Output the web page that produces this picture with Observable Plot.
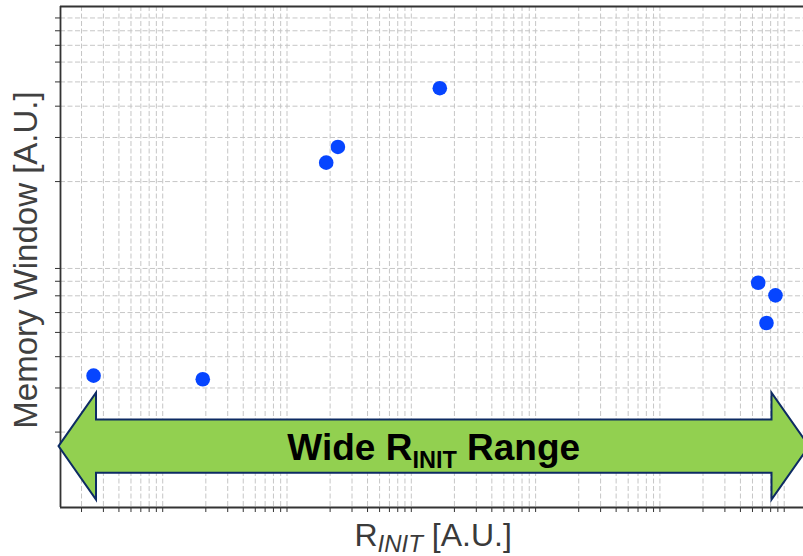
<!DOCTYPE html>
<html>
<head>
<meta charset="utf-8">
<script src="https://cdn.jsdelivr.net/npm/d3@7"></script>
<script src="https://cdn.jsdelivr.net/npm/@observablehq/plot@0.6"></script>
<style>
  html, body { margin: 0; padding: 0; background: #fff; overflow: hidden; }
  #chart { width: 803px; height: 556px; overflow: hidden; }
  svg { font-family: "Liberation Sans", Arial, sans-serif; }
</style>
</head>
<body>
<div id="chart"></div>
<script>
// ---- data ----
const rInit = [2.5, 18.9, 186, 231, 1526, 555900, 765600, 648200];
const memoryWindow = [3.36, 3.25, 23.8, 27.5, 47.2, 7.89, 7.03, 5.45];

// axes
const xDomain = [1.355, 1.2866e6];
const yDomain = [1, 100];
const minorMultipliers = [2, 3, 4, 5, 6, 7, 8, 9];
const xDecades = [1, 10, 100, 1e3, 1e4, 1e5, 1e6];
const yDecades = [1, 10];

// annotation
const arrowEnds = [1.318, 1.438e6];
const arrowLevel = 1.75;
const arrowTextParts = ["Wide R", "INIT", " Range"];

// labels
const yLabel = "Memory Window [A.U.]";
const xLabelParts = ["R", "INIT", " [A.U.]"];

// ---- build ----
const points = rInit.map((x, i) => ({x, y: memoryWindow[i]}));
const inside = (dom) => (v) => v >= dom[0] && v <= dom[1];
const xTicks = xDecades.flatMap(d => minorMultipliers.map(m => m * d)).filter(inside(xDomain));
const yTicks = yDecades.flatMap(d => minorMultipliers.map(m => m * d)).filter(inside(yDomain));

const gridStyle = {stroke: "#c6c6c6", strokeOpacity: 1, strokeWidth: 1, strokeDasharray: "5,2.5"};
const frameStyle = {stroke: "#333", strokeWidth: 1.8};

function arrowMark(index, scales) {
  const {x, y} = scales;
  const g = d3.create("svg:g");
  const xL = x(arrowEnds[0]), xR = x(arrowEnds[1]), yc = y(arrowLevel);
  const hl = 37.5, hh = 53.5, sh = 26.7;
  const pts = [[xL, yc], [xL + hl, yc - hh], [xL + hl, yc - sh], [xR - hl, yc - sh], [xR - hl, yc - hh],
               [xR, yc], [xR - hl, yc + hh], [xR - hl, yc + sh], [xL + hl, yc + sh], [xL + hl, yc + hh]];
  g.append("path")
    .attr("d", "M" + pts.map(p => p.join(",")).join("L") + "Z")
    .attr("fill", "#92d050")
    .attr("stroke", "#0d2b63")
    .attr("stroke-width", 2)
    .attr("stroke-linejoin", "miter");
  const t = g.append("text")
    .attr("x", (xL + xR) / 2)
    .attr("y", yc + 14)
    .attr("text-anchor", "middle")
    .attr("font-weight", "bold")
    .attr("font-size", 37)
    .attr("fill", "#000");
  t.append("tspan").text(arrowTextParts[0]);
  t.append("tspan").attr("font-size", 23.5).attr("dy", 8).text(arrowTextParts[1]);
  t.append("tspan").attr("dy", -8).text(arrowTextParts[2]);
  return g.node();
}

function labelMark(index, scales) {
  const {x, y} = scales;
  const g = d3.create("svg:g");
  const left = x(xDomain[0]), right = x(xDomain[1]);
  const top = y(yDomain[1]), bottom = y(yDomain[0]);
  const cy = (top + bottom) / 2 + 3.5;
  g.append("text")
    .attr("transform", `translate(36.5,${cy}) rotate(-90)`)
    .attr("text-anchor", "middle")
    .attr("font-size", 33)
    .attr("fill", "#404040")
    .text(yLabel);
  const cx = (left + right) / 2;
  const t = g.append("text")
    .attr("x", cx - 77)
    .attr("y", bottom + 39)
    .attr("text-anchor", "start")
    .attr("font-size", 32)
    .attr("fill", "#3a3a3a");
  t.append("tspan").text(xLabelParts[0]);
  t.append("tspan").attr("font-style", "italic").attr("font-size", 24).attr("dy", 6).text(xLabelParts[1]);
  t.append("tspan").attr("dy", -6).text(xLabelParts[2]);
  return g.node();
}

const chart = Plot.plot({
  width: 803,
  height: 556,
  marginLeft: 60,
  marginRight: 0,
  marginTop: 6,
  marginBottom: 49,
  style: {background: "#fff", fontFamily: "Liberation Sans, Arial, sans-serif"},
  x: {type: "log", domain: xDomain, axis: null},
  y: {type: "log", domain: yDomain, axis: null},
  marks: [
    Plot.gridX(xTicks, gridStyle),
    Plot.gridY(yTicks, gridStyle),
    Plot.axisX(xTicks, {tickSize: 5, stroke: "#333", tickFormat: () => "", label: null}),
    Plot.axisY(yTicks, {tickSize: 5, stroke: "#333", tickFormat: () => "", label: null}),
    Plot.ruleX([xDomain[0]], frameStyle),
    Plot.ruleY(yDomain, frameStyle),
    arrowMark,
    Plot.dot(points, {x: "x", y: "y", r: 7.3, fill: "#0645ff", stroke: null}),
    labelMark
  ]
});
document.getElementById("chart").appendChild(chart);
</script>
</body>
</html>
